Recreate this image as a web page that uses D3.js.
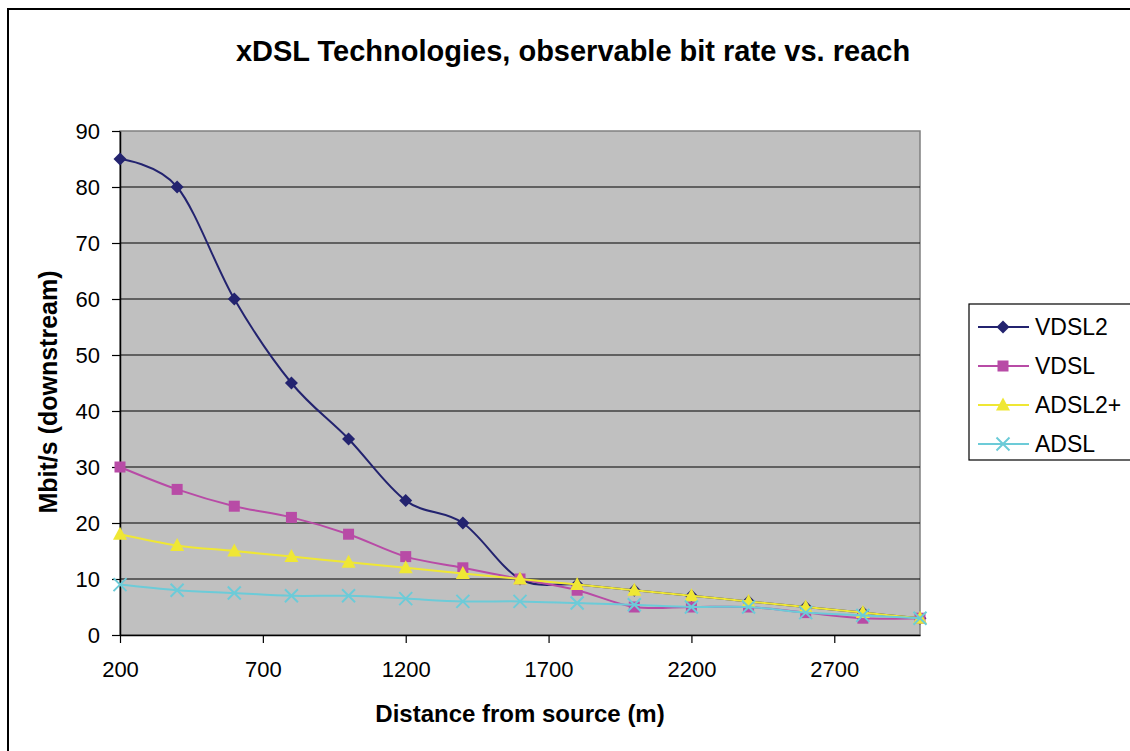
<!DOCTYPE html>
<html>
<head>
<meta charset="utf-8">
<script src="https://cdn.jsdelivr.net/npm/d3@7"></script>
<style>
  body { margin: 0; background: #fff; }
  text { font-family: "Liberation Sans", Arial, sans-serif; }
</style>
</head>
<body>
<div id="chart"></div>
<script>
// data
var distances = [200, 400, 600, 800, 1000, 1200, 1400, 1600, 1800, 2000, 2200, 2400, 2600, 2800, 3000];
var vdsl2  = [85, 80, 60, 45, 35, 24, 20, 10, 9, 8, 7, 6, 5, 4, 3];
var vdsl   = [30, 26, 23, 21, 18, 14, 12, 10, 8, 5, 5, 5, 4, 3, 3];
var adsl2p = [18, 16, 15, 14, 13, 12, 11, 10, 9, 8, 7, 6, 5, 4, 3];
var adsl   = [9, 8, 7.5, 7, 7, 6.5, 6, 6, 5.7, 5.4, 5, 5, 4, 3.5, 3];
var seriesNames = ["VDSL2", "VDSL", "ADSL2+", "ADSL"];
var xTicks = [200, 700, 1200, 1700, 2200, 2700];
var yTicks = [0, 10, 20, 30, 40, 50, 60, 70, 80, 90];

var W = 1130, H = 751;
var plot = {left: 120, right: 920, top: 131, bottom: 635};

var series = [
  {name: seriesNames[0], values: vdsl2,  color: "#23236F", marker: "diamond"},
  {name: seriesNames[1], values: vdsl,   color: "#B84BA6", marker: "square"},
  {name: seriesNames[2], values: adsl2p, color: "#EFE734", marker: "triangle"},
  {name: seriesNames[3], values: adsl,   color: "#6CCBD8", marker: "cross"}
];

var svg = d3.select("#chart").append("svg").attr("width", W).attr("height", H);

// outer chart border
svg.append("rect").attr("x", 8).attr("y", 9).attr("width", W + 20).attr("height", H + 20)
  .attr("fill", "#fff").attr("stroke", "#000").attr("stroke-width", 2);

var x = d3.scaleLinear().domain([200, 3000]).range([plot.left, plot.right]);
var y = d3.scaleLinear().domain([0, 90]).range([plot.bottom, plot.top]);

// plot area
svg.append("rect").attr("x", plot.left).attr("y", plot.top)
  .attr("width", plot.right - plot.left).attr("height", plot.bottom - plot.top)
  .attr("fill", "#C0C0C0").attr("stroke", "#808080").attr("stroke-width", 1.5);

// gridlines
svg.append("g").selectAll("line").data(yTicks.filter(d => d > 0 && d < 90)).enter()
  .append("line")
  .attr("x1", plot.left).attr("x2", plot.right)
  .attr("y1", d => y(d)).attr("y2", d => y(d))
  .attr("stroke", "#000").attr("stroke-width", 1.2);

// axes
var yAxis = svg.append("g").attr("transform", `translate(${plot.left},0)`)
  .call(d3.axisLeft(y).tickValues(yTicks).tickSize(8).tickPadding(12).tickSizeOuter(0));
var xAxis = svg.append("g").attr("transform", `translate(0,${plot.bottom})`)
  .call(d3.axisBottom(x).tickValues(xTicks).tickFormat(d3.format("d")).tickSize(8).tickPadding(18).tickSizeOuter(0));
[yAxis, xAxis].forEach(a => {
  a.select(".domain").attr("stroke", "#000").attr("stroke-width", 1.5);
  a.selectAll(".tick line").attr("stroke", "#000").attr("stroke-width", 1.2);
  a.selectAll("text").attr("font-size", 22).attr("fill", "#000")
    .style("font-family", '"Liberation Sans", Arial, sans-serif');
});

// lines
var line = d3.line()
  .x((d, i) => x(distances[i]))
  .y(d => y(d))
  .curve(d3.curveCardinal.tension(0));

function marker(g, type, color) {
  if (type == "diamond") {
    g.append("path").attr("d", "M0,-6.5L6.5,0L0,6.5L-6.5,0Z").attr("fill", color);
  } else if (type == "square") {
    g.append("rect").attr("x", -5.5).attr("y", -5.5).attr("width", 11).attr("height", 11).attr("fill", color);
  } else if (type == "triangle") {
    g.append("path").attr("d", "M0,-7.5L7,5.5L-7,5.5Z").attr("fill", color);
  } else {
    g.append("path").attr("d", "M-6.5,-6.5L6.5,6.5M6.5,-6.5L-6.5,6.5").attr("stroke", color).attr("stroke-width", 2).attr("fill", "none");
  }
}

series.forEach(s => {
  svg.append("path").attr("d", line(s.values))
    .attr("fill", "none").attr("stroke", s.color).attr("stroke-width", 2);
  s.values.forEach((v, i) => {
    var g = svg.append("g").attr("transform", `translate(${x(distances[i])},${y(v)})`);
    marker(g, s.marker, s.color);
  });
});

// title & axis titles
svg.append("text").attr("x", 573).attr("y", 61).attr("text-anchor", "middle")
  .attr("font-size", 29).attr("font-weight", "bold")
  .text("xDSL Technologies, observable bit rate vs. reach");
svg.append("text").attr("x", 520).attr("y", 722).attr("text-anchor", "middle")
  .attr("font-size", 24).attr("font-weight", "bold")
  .text("Distance from source (m)");
svg.append("text").attr("transform", "translate(57,392) rotate(-90)").attr("text-anchor", "middle")
  .attr("font-size", 25).attr("font-weight", "bold")
  .text("Mbit/s (downstream)");

// legend
var legend = svg.append("g");
legend.append("rect").attr("x", 969).attr("y", 304).attr("width", 170).attr("height", 156)
  .attr("fill", "#fff").attr("stroke", "#000").attr("stroke-width", 1.2);
series.forEach((s, i) => {
  var ly = 327 + i * 39;
  legend.append("line").attr("x1", 978).attr("x2", 1029).attr("y1", ly).attr("y2", ly)
    .attr("stroke", s.color).attr("stroke-width", 2);
  marker(legend.append("g").attr("transform", `translate(1003,${ly})`), s.marker, s.color);
  legend.append("text").attr("x", 1035).attr("y", ly + 8).attr("font-size", 23).text(s.name);
});
</script>
</body>
</html>
